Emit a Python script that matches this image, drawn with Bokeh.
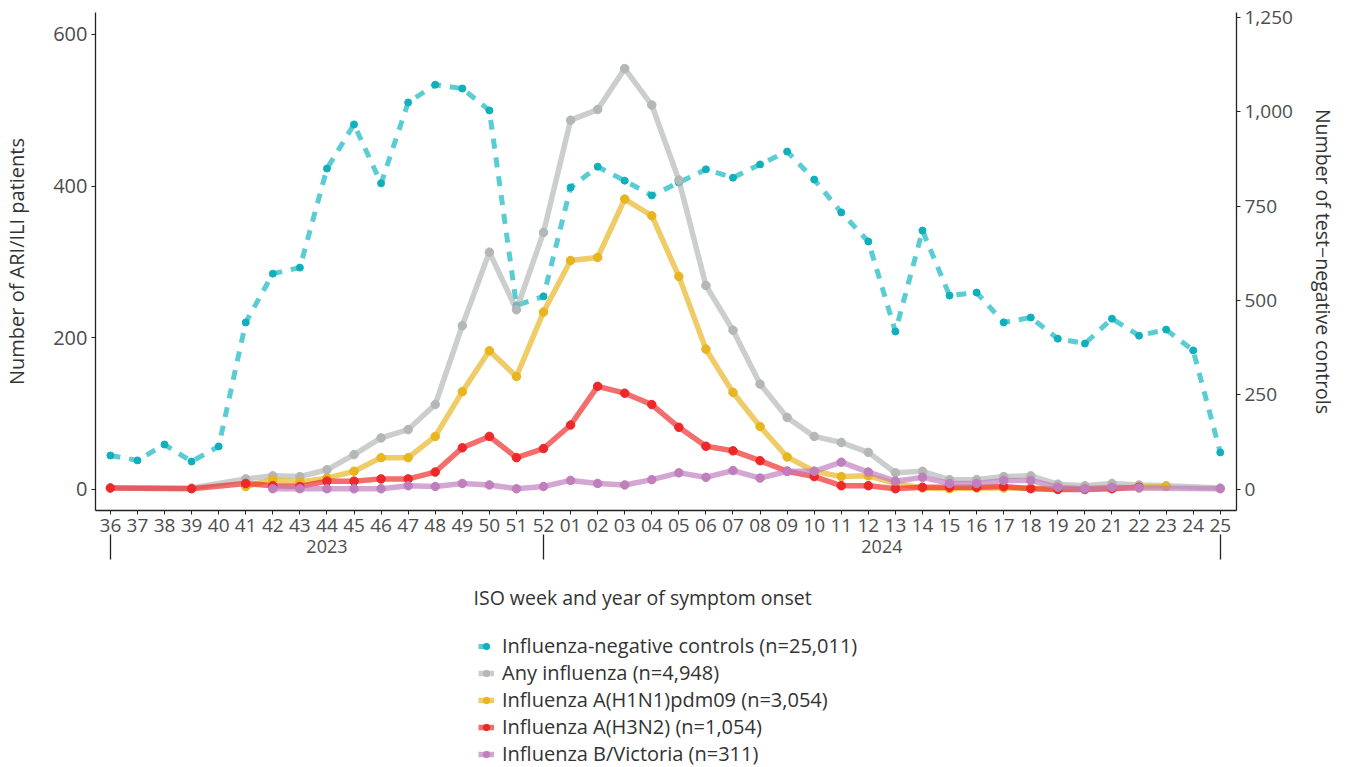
import math
from bokeh.plotting import figure
from bokeh.layouts import column
from bokeh.models import (Range1d, LinearAxis, FixedTicker, NumeralTickFormatter,
                          Legend, LegendItem, Label)
from bokeh.embed import file_html
from bokeh.resources import INLINE

nan = float("nan")

# ISO weeks 2023-36 ... 2024-25
weeks = ["36", "37", "38", "39", "40", "41", "42", "43", "44", "45", "46", "47", "48",
         "49", "50", "51", "52",
         "01", "02", "03", "04", "05", "06", "07", "08", "09", "10", "11", "12", "13",
         "14", "15", "16", "17", "18", "19", "20", "21", "22", "23", "24", "25"]
years = ["2023", "2024"]

controls = [90, 77, 119, 74, 114, 442, 571, 587, 849, 966, 810, 1024, 1071, 1061, 1003, 487, 511,
            799, 854, 817, 778, 812, 847, 825, 860, 894, 820, 733, 656, 418, 685, 513, 521,
            442, 455, 399, 386, 452, 407, 423, 368, 98]
any_flu = [2, nan, nan, 2, nan, 14, 18, 17, 26, 46, 68, 79, 112, 216, 313, 237, 339,
           487, 501, 555, 507, 408, 269, 210, 139, 95, 70, 62, 49, 22, 24, 13, 13,
           17, 18, 7, 5, 8, 6, 5, nan, 2]
h1n1 = [nan, nan, nan, nan, nan, 4, 13, 10, 15, 24, 42, 42, 70, 129, 183, 149, 234,
        302, 306, 383, 361, 281, 185, 128, 83, 43, 24, 17, 18, 8, 2, 1, 2,
        2, 2, 1, 1, 2, 3, 4, nan, nan]
h3n2 = [2, nan, nan, 1, nan, 8, 5, 4, 11, 11, 14, 14, 23, 55, 70, 42, 54,
        85, 136, 127, 112, 82, 57, 51, 38, 24, 17, 5, 5, 1, 3, 3, 3,
        4, 1, 0, 0, 1, 3, nan, nan, nan]
b_vic = [nan, nan, nan, nan, nan, nan, 1, 1, 1, 1, 1, 5, 4, 8, 6, 1, 4,
         12, 8, 6, 13, 22, 16, 25, 15, 24, 24, 36, 23, 11, 16, 8, 8,
         12, 12, 3, 1, 3, 2, nan, nan, 1]

labels = ["Influenza-negative controls (n=25,011)",
          "Any influenza (n=4,948)",
          "Influenza A(H1N1)pdm09 (n=3,054)",
          "Influenza A(H3N2) (n=1,054)",
          "Influenza B/Victoria (n=311)"]
x_title = "ISO week and year of symptom onset"

FONT = "Open Sans"
TXT = "#333333"
TICK = "#4D4D4D"


def pts(vals):
    xs = [i for i, v in enumerate(vals) if not math.isnan(v)]
    ys = [v for v in vals if not math.isnan(v)]
    return xs, ys


def draw(fig, right_name):
    items = []
    cx, cy = pts(controls)
    l0 = fig.line(cx, cy, y_range_name=right_name, line_color="#1BB8C4", line_alpha=0.72,
                  line_width=5, line_dash="10 9", line_cap="butt")
    s0 = fig.scatter(cx, cy, y_range_name=right_name, size=7, color="#0FB0BD")
    items.append(LegendItem(label=labels[0], renderers=[l0, s0]))
    series = [(any_flu, "#B3B7B6"), (h1n1, "#E8B420"), (h3n2, "#EE2828"), (b_vic, "#C07EBD")]
    for k, (vals, col) in enumerate(series):
        xs, ys = pts(vals)
        ln = fig.line(xs, ys, line_color=col, line_alpha=0.68, line_width=5.5, line_join="round")
        sc = fig.scatter(xs, ys, size=8.5, color=col)
        items.append(LegendItem(label=labels[k + 1], renderers=[ln, sc]))
    return items


# ---------------- main chart ----------------
p = figure(frame_width=1141, frame_height=498, output_backend="svg", toolbar_location=None,
           x_range=Range1d(-0.55, 41.6), y_range=Range1d(-27.7, 629),
           min_border_left=95, min_border_right=60, min_border_top=12, min_border_bottom=56)
p.extra_y_ranges = {"right": Range1d(-55.6, 1262)}
p.outline_line_color = None
p.xgrid.visible = False
p.ygrid.visible = False
p.background_fill_color = "white"
draw(p, "right")

ya = p.yaxis[0]
ya.ticker = FixedTicker(ticks=[0, 200, 400, 600])
ya.axis_label = "Number of ARI/ILI patients"

ra = LinearAxis(y_range_name="right", ticker=FixedTicker(ticks=[0, 250, 500, 750, 1000, 1250]),
                formatter=NumeralTickFormatter(format="0,0"),
                axis_label="Number of test\u2212negative controls")
p.add_layout(ra, "right")

for ax, st, fs in ((ya, 20, "20px"), (ra, 14, "19px")):
    ax.axis_line_color = "#222222"
    ax.axis_line_width = 1.3
    ax.major_tick_line_color = "#222222"
    ax.major_tick_out = 4
    ax.major_tick_in = 0
    ax.minor_tick_line_color = None
    ax.major_label_text_font = FONT
    ax.major_label_text_font_size = fs
    ax.major_label_text_color = TICK
    ax.major_label_standoff = 4
    ax.axis_label_text_font = FONT
    ax.axis_label_text_font_size = "20px" if ax is ya else "19.5px"
    ax.axis_label_text_font_style = "normal"
    ax.axis_label_text_color = TXT
    ax.axis_label_standoff = st

xa = p.xaxis[0]
xa.ticker = FixedTicker(ticks=list(range(len(weeks))))
xa.major_label_overrides = {i: w for i, w in enumerate(weeks)}
xa.axis_line_color = "#222222"
xa.axis_line_width = 1.3
xa.major_tick_line_color = "#222222"
xa.major_tick_out = 4
xa.major_tick_in = 0
xa.minor_tick_line_color = None
xa.major_label_text_font = FONT
xa.major_label_text_font_size = "19px"
xa.major_label_text_color = TICK
xa.major_label_standoff = 4

yr = LinearAxis(ticker=FixedTicker(ticks=[8, 28.5], minor_ticks=[0, 16, 41]),
                major_label_overrides={8: years[0], 28.5: years[1]})
yr.axis_line_color = None
yr.major_tick_line_color = None
yr.major_tick_out = 0
yr.major_tick_in = 0
yr.minor_tick_line_color = "#222222"
yr.minor_tick_line_width = 1.3
yr.minor_tick_out = 25
yr.minor_tick_in = 0
yr.major_label_text_font = FONT
yr.major_label_text_font_size = "18px"
yr.major_label_text_color = TICK
yr.major_label_standoff = -20
p.add_layout(yr, "below")

# ---------------- legend + x title strip ----------------
H2 = 201
p2 = figure(width=1330, height=H2, output_backend="svg", toolbar_location=None,
            x_range=Range1d(-200, -199), y_range=Range1d(-200, -199),
            x_axis_location=None, y_axis_location=None, min_border=0)
p2.extra_y_ranges = {"right2": Range1d(-5000, -4999)}
p2.outline_line_color = None
p2.xgrid.visible = False
p2.ygrid.visible = False
p2.background_fill_color = "white"
items2 = draw(p2, "right2")

p2.add_layout(Label(x=378, y=H2 - 31, x_units="screen", y_units="screen", text=x_title,
                    text_font=FONT, text_font_size="19.5px", text_color=TXT,
                    text_baseline="middle", text_align="left"))

legend = Legend(items=items2, location=(383, 0), orientation="vertical",
                border_line_color=None, background_fill_alpha=0,
                glyph_width=16, glyph_height=20, label_standoff=8, spacing=-1,
                padding=0, margin=0, label_text_font=FONT, label_text_font_size="20px",
                label_text_color=TXT, label_height=20)
p2.add_layout(legend, "center")

layout = column(p, p2, spacing=0)
open("out.html", "w").write(file_html(layout, INLINE))
